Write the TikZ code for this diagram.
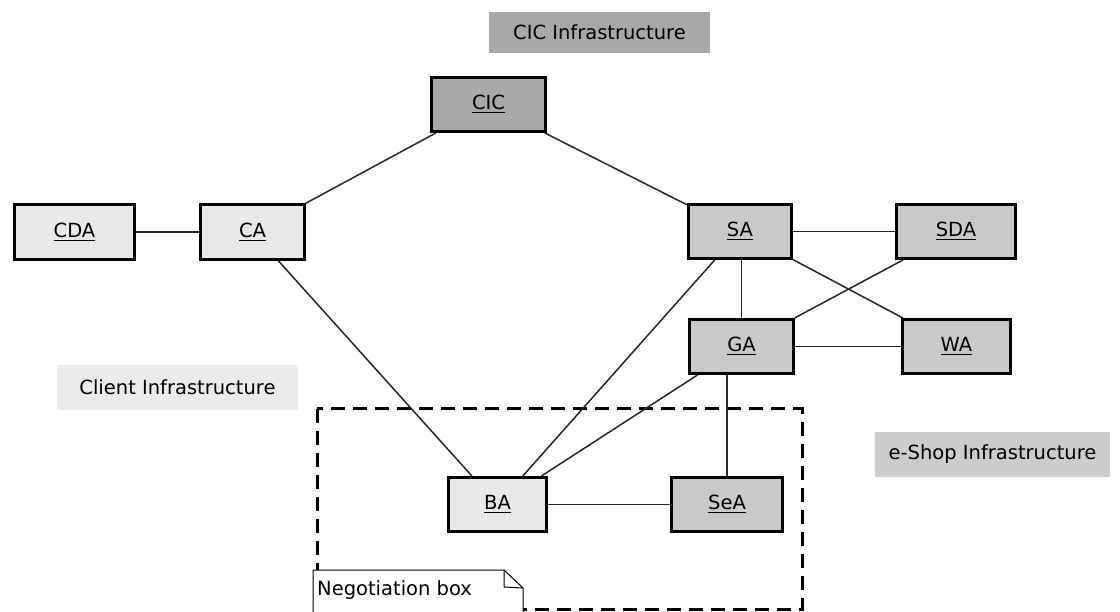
\documentclass[tikz,border=0pt]{standalone}
\usepackage{fontspec}
\setmainfont{DejaVu Sans}
\newcommand\ulabel[1]{\setbox0\hbox{#1}\rlap{\rule[-3.5pt]{\wd0}{1.4pt}}\box0}
\begin{document}
\begin{tikzpicture}[x=1pt,y=-1pt,
  every node/.style={font=\fontsize{19.5}{22}\selectfont, text=black},
  agent/.style={draw=black, line width=3pt, rectangle, inner sep=0pt},
  cicfill/.style={fill=black!34},
  clientfill/.style={fill=black!9},
  shopfill/.style={fill=black!21},
  area/.style={rectangle, inner sep=0pt},
  link/.style={draw=black!85, line width=1.5pt}]
\useasboundingbox (0,0) rectangle (1120,612);
\clip (0,0) rectangle (1120,612);

% infrastructure captions
\node[area, fill=black!34, minimum width=221pt, minimum height=41pt] (cicinf) at (599.5,32.5) {CIC Infrastructure};
\node[area, fill=black!8, minimum width=241pt, minimum height=45pt] (clientinf) at (177.5,387.5) {Client Infrastructure};
\node[area, fill=black!20, minimum width=235pt, minimum height=45pt] (shopinf) at (992.5,454.5) {e-Shop Infrastructure};

% negotiation area
\draw[line width=3pt, dash pattern=on 14pt off 8pt] (317,409) rectangle (802,609);

% agents
\node[agent, cicfill, minimum width=114pt, minimum height=54pt] (CIC) at (488.5,104.5) {\ulabel{CIC}};
\node[agent, clientfill, minimum width=120pt, minimum height=55pt] (CDA) at (74.5,232) {\ulabel{CDA}};
\node[agent, clientfill, minimum width=104pt, minimum height=55pt] (CA) at (252.5,232) {\ulabel{CA}};
\node[agent, shopfill, minimum width=103pt, minimum height=54pt] (SA) at (740,231.5) {\ulabel{SA}};
\node[agent, shopfill, minimum width=119pt, minimum height=54pt] (SDA) at (956,231.5) {\ulabel{SDA}};
\node[agent, shopfill, minimum width=104pt, minimum height=54pt] (GA) at (741.5,346.5) {\ulabel{GA}};
\node[agent, shopfill, minimum width=108pt, minimum height=54pt] (WA) at (956.5,346.5) {\ulabel{WA}};
\node[agent, clientfill, minimum width=98pt, minimum height=54pt] (BA) at (497.5,504.5) {\ulabel{BA}};
\node[agent, shopfill, minimum width=111pt, minimum height=54pt] (SeA) at (727,504.5) {\ulabel{SeA}};

% links
\path[link] (CDA) -- (CA);
\path[link] (CIC) -- (CA);
\path[link] (CIC) -- (SA);
\path[link] (CA) -- (BA);
\path[link] (SA) -- (BA);
\path[link] (GA) -- (BA);
\path[link] (SA) -- (SDA);
\path[link] (GA.north) -- (GA.north |- SA.south);
\path[link] (SA) -- (WA);
\path[link] (GA) -- (SDA);
\path[link] (GA) -- (WA);
\path[link] (BA) -- (SeA);
\path[link] (SeA.north) -- (SeA.north |- GA.south);

% note
\coordinate (nA) at (313,570);
\coordinate (nB) at (504,570);
\coordinate (nC) at (523,588);
\coordinate (nD) at (523,616);
\coordinate (nE) at (313,616);
\draw[fill=white, line width=1pt] (nA) -- (nB) -- (nC) -- (nD) -- (nE) -- cycle;
\draw[line width=1pt] (nB) -- (504,587) -- (nC);
\node[anchor=base west, inner sep=0pt] (note) at (317,595) {Negotiation box};
\end{tikzpicture}
\end{document}
